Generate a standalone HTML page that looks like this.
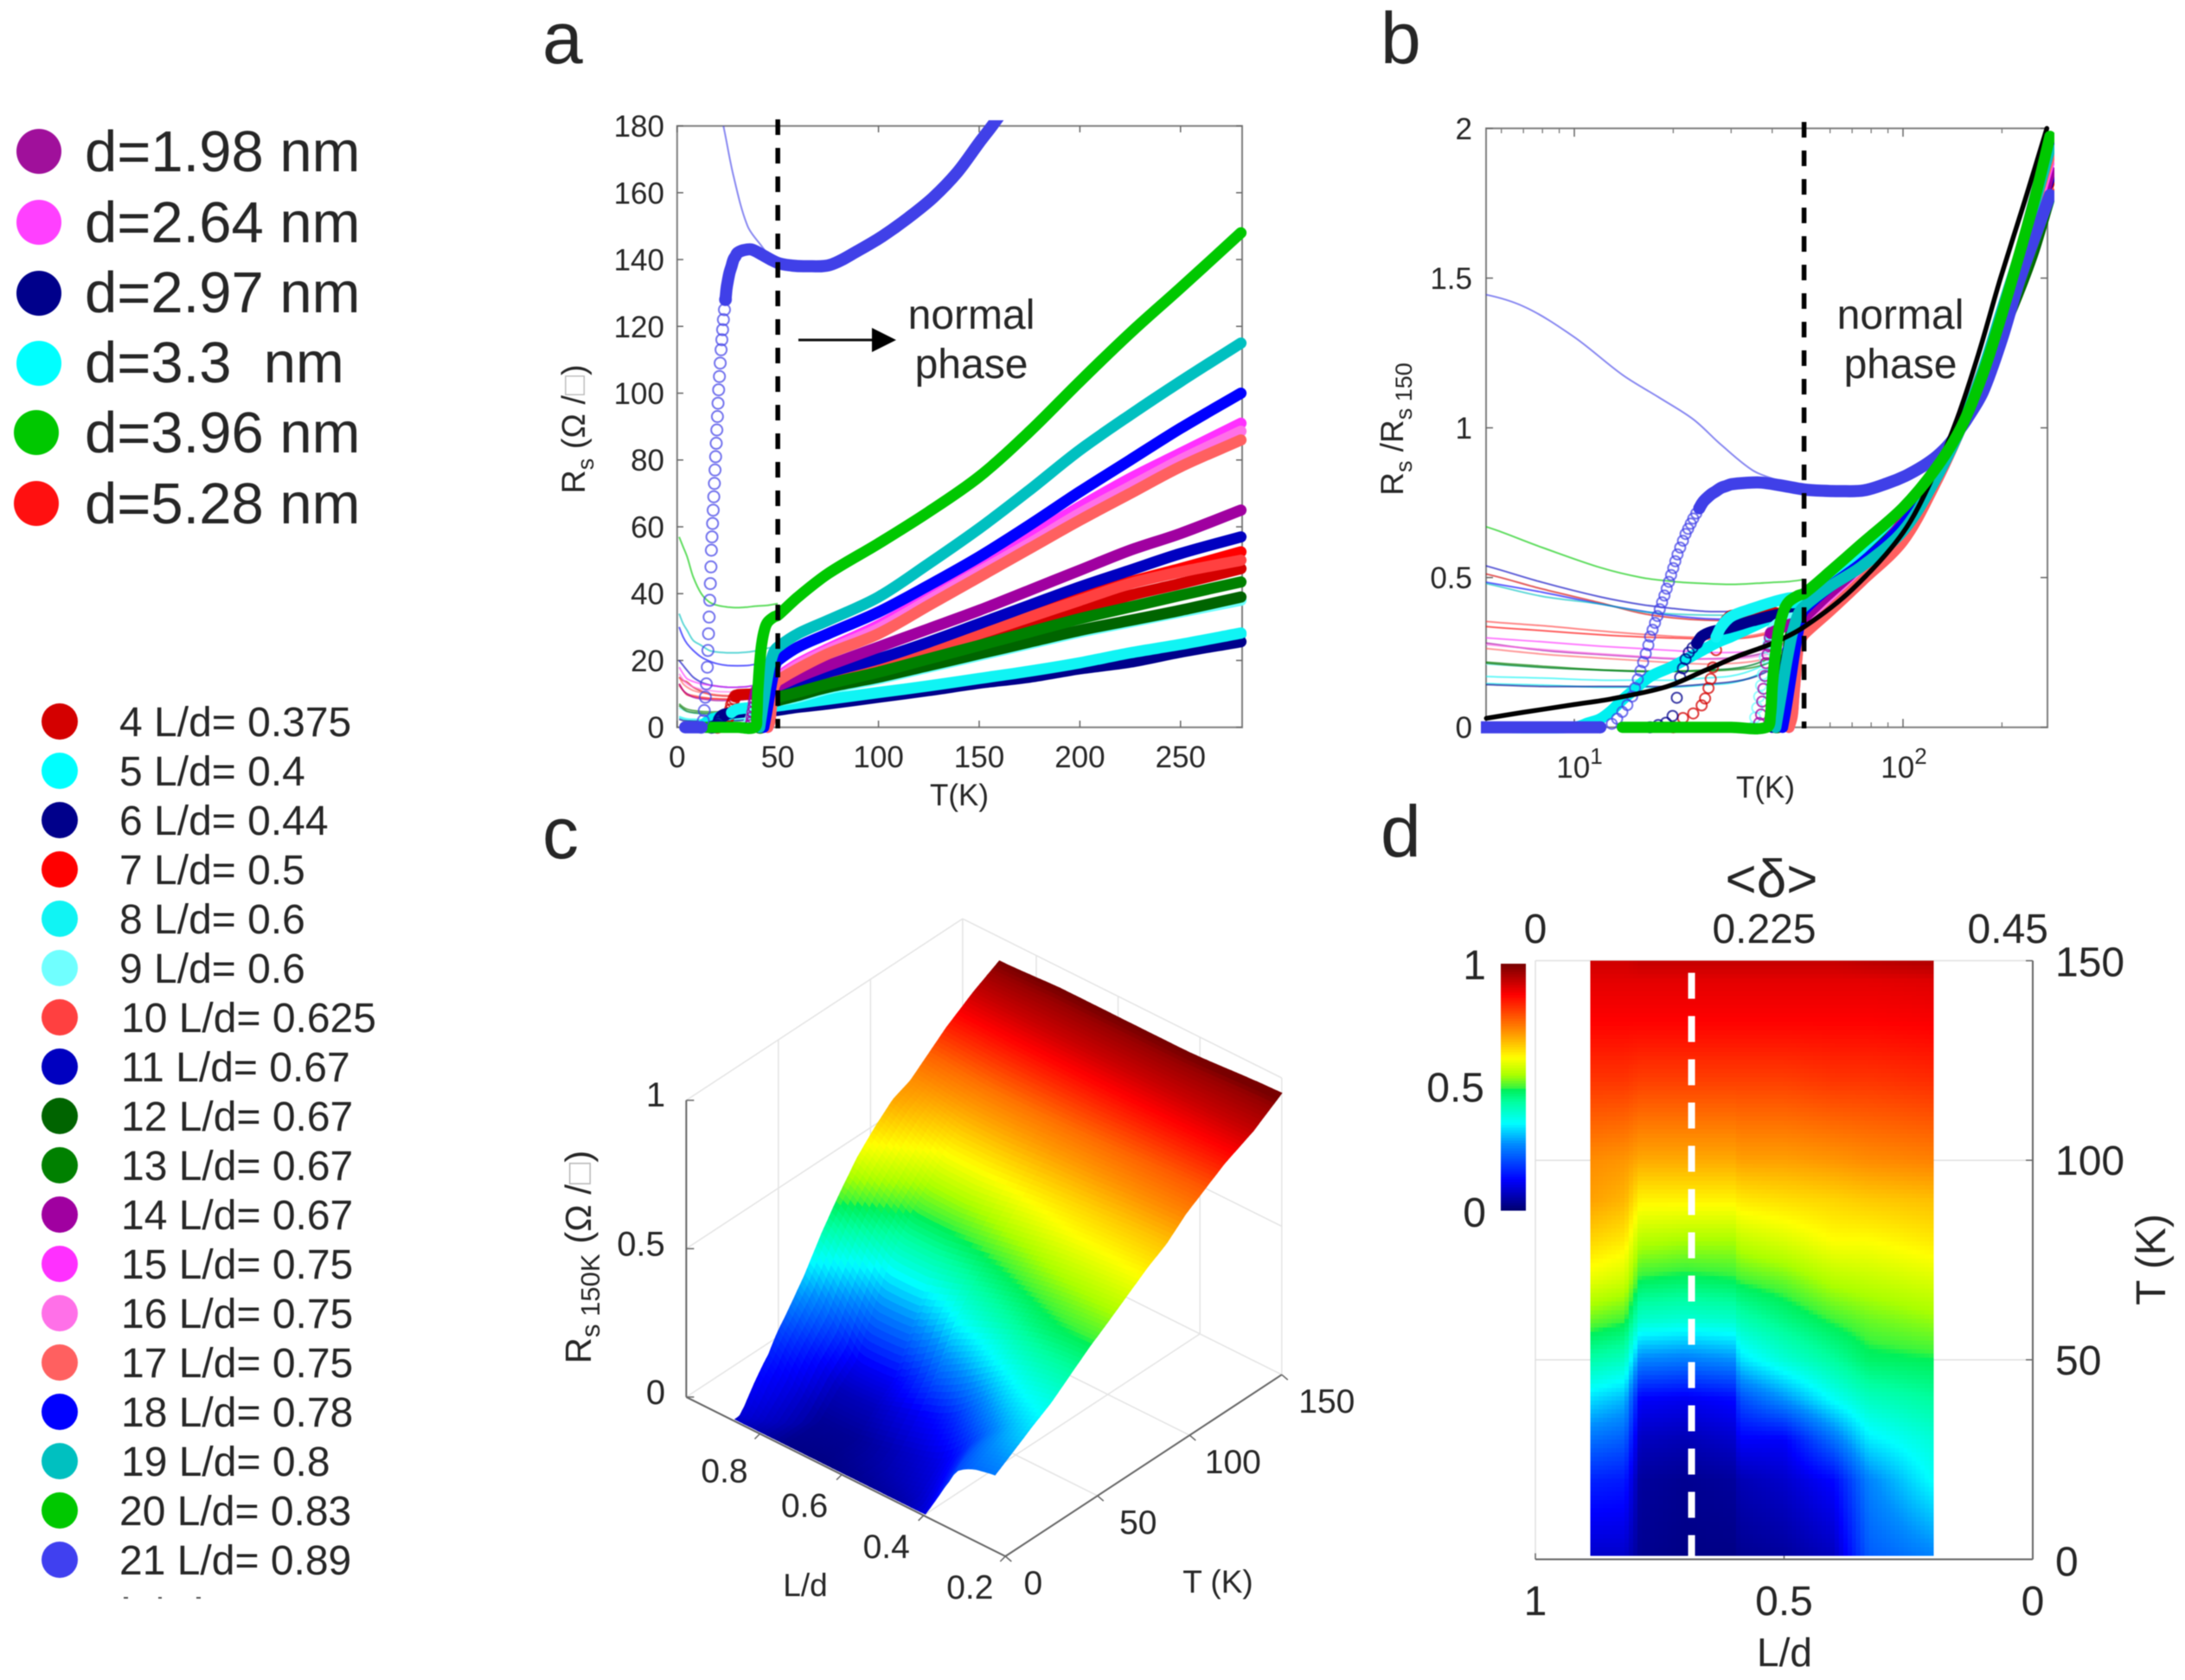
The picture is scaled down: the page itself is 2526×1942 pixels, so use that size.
<!DOCTYPE html>
<html lang="en">
<head>
<meta charset="utf-8">
<title>Resistance versus temperature panels</title>
<style>
html,body{margin:0;padding:0;background:#fff;}
svg{display:block;filter:blur(0.6px);}
text{font-family:"Liberation Sans","DejaVu Sans",sans-serif;fill:#262626;}
</style>
</head>
<body>
<svg id="fig" xmlns="http://www.w3.org/2000/svg" width="2526" height="1942" viewBox="0 0 2526 1942">
<rect x="0" y="0" width="2526" height="1942" fill="#fff"/>
<defs>
<clipPath id="clipAThin"><rect x="783" y="145.6" width="653" height="695"/></clipPath>
<clipPath id="clipAThick"><rect x="773" y="139" width="672" height="712"/></clipPath>
<clipPath id="clipBThin"><rect x="1718" y="148.4" width="649" height="692.3"/></clipPath>
<clipPath id="clipBThick"><rect x="1712" y="142" width="663" height="708"/></clipPath>
</defs>

<g font-size="67">
<g><circle cx="45" cy="175" r="26" fill="#a0109b"/><text x="98" y="198" font-size="67">d=1.98 nm</text></g>
<g><circle cx="45" cy="257" r="26" fill="#ff40ff"/><text x="98" y="280" font-size="67">d=2.64 nm</text></g>
<g><circle cx="45" cy="339" r="26" fill="#00008b"/><text x="98" y="361" font-size="67">d=2.97 nm</text></g>
<g><circle cx="45" cy="420" r="26" fill="#00ffff"/><text x="98" y="442" font-size="67" xml:space="preserve">d=3.3  nm</text></g>
<g><circle cx="42" cy="500" r="26" fill="#00c800"/><text x="98" y="523" font-size="67">d=3.96 nm</text></g>
<g><circle cx="42" cy="582" r="26" fill="#ff1010"/><text x="98" y="605" font-size="67">d=5.28 nm</text></g>
</g>

<g font-size="48">
<g><circle cx="69" cy="834" r="21" fill="#d40000"/><text x="138" y="851" font-size="48">4 L/d= 0.375</text></g>
<g><circle cx="69" cy="891" r="21" fill="#00ffff"/><text x="138" y="908" font-size="48">5 L/d= 0.4</text></g>
<g><circle cx="69" cy="948" r="21" fill="#00008b"/><text x="138" y="965" font-size="48">6 L/d= 0.44</text></g>
<g><circle cx="69" cy="1005" r="21" fill="#ff0000"/><text x="138" y="1022" font-size="48">7 L/d= 0.5</text></g>
<g><circle cx="69" cy="1062" r="21" fill="#10f4f4"/><text x="138" y="1079" font-size="48">8 L/d= 0.6</text></g>
<g><circle cx="69" cy="1119" r="21" fill="#70ffff"/><text x="138" y="1136" font-size="48">9 L/d= 0.6</text></g>
<g><circle cx="69" cy="1176" r="21" fill="#ff4040"/><text x="140" y="1193" font-size="48">10 L/d= 0.625</text></g>
<g><circle cx="69" cy="1233" r="21" fill="#0000c0"/><text x="140" y="1250" font-size="48">11 L/d= 0.67</text></g>
<g><circle cx="69" cy="1290" r="21" fill="#006400"/><text x="140" y="1307" font-size="48">12 L/d= 0.67</text></g>
<g><circle cx="69" cy="1347" r="21" fill="#008000"/><text x="140" y="1364" font-size="48">13 L/d= 0.67</text></g>
<g><circle cx="69" cy="1404" r="21" fill="#a000a0"/><text x="140" y="1421" font-size="48">14 L/d= 0.67</text></g>
<g><circle cx="69" cy="1461" r="21" fill="#ff30ff"/><text x="140" y="1478" font-size="48">15 L/d= 0.75</text></g>
<g><circle cx="69" cy="1518" r="21" fill="#ff70e8"/><text x="140" y="1535" font-size="48">16 L/d= 0.75</text></g>
<g><circle cx="69" cy="1575" r="21" fill="#ff6060"/><text x="140" y="1592" font-size="48">17 L/d= 0.75</text></g>
<g><circle cx="69" cy="1632" r="21" fill="#0000ff"/><text x="140" y="1649" font-size="48">18 L/d= 0.78</text></g>
<g><circle cx="69" cy="1689" r="21" fill="#00c0c0"/><text x="140" y="1706" font-size="48">19 L/d= 0.8</text></g>
<g><circle cx="69" cy="1746" r="21" fill="#00c800"/><text x="138" y="1763" font-size="48">20 L/d= 0.83</text></g>
<g><circle cx="69" cy="1803" r="21" fill="#4040f0"/><text x="138" y="1820" font-size="48">21 L/d= 0.89</text></g>
<rect x="143" y="1846" width="5" height="2" fill="#555"/>
<rect x="183" y="1846" width="4" height="2" fill="#555"/>
<rect x="227" y="1846" width="5" height="2" fill="#555"/>
</g>

<text x="627" y="73" font-size="84" fill="#000">a</text>
<text x="1596" y="73" font-size="84" fill="#000">b</text>
<text x="627" y="992" font-size="84" fill="#000">c</text>
<text x="1596" y="990" font-size="84" fill="#000">d</text>

<g id="panelA"></g>
<g id="panelB"></g>
<g id="panelC"></g>
<g id="panelD"></g>

<text x="1123" y="380" font-size="48" text-anchor="middle" fill="#111">normal</text>
<text x="1123" y="437" font-size="48" text-anchor="middle" fill="#111">phase</text>
<line x1="923" y1="393" x2="1010" y2="393" stroke="#111" stroke-width="3"/>
<polygon points="1008,379 1036,393 1008,407" fill="#000"/>
<text x="2197" y="380" font-size="48" text-anchor="middle" fill="#111">normal</text>
<text x="2197" y="437" font-size="48" text-anchor="middle" fill="#111">phase</text>

<text transform="translate(676,496) rotate(-90)" font-size="38" text-anchor="middle" fill="#333">R<tspan dy="10" font-size="27">s</tspan><tspan dy="-10"> (Ω /</tspan><tspan fill="#bbb">□</tspan><tspan>)</tspan></text>
<text x="1109" y="931" font-size="35" text-anchor="middle" fill="#333">T(K)</text>
<text transform="translate(1622,496) rotate(-90)" font-size="37" text-anchor="middle" fill="#333">R<tspan dy="10" font-size="27">s</tspan><tspan dy="-10"> /R</tspan><tspan dy="10" font-size="27">s 150</tspan></text>
<text x="2041" y="922" font-size="35" text-anchor="middle" fill="#333">T(K)</text>
<text transform="translate(683,1453) rotate(-90)" font-size="42" text-anchor="middle" fill="#333">R<tspan dy="10" font-size="31">s 150K</tspan><tspan dy="-10"> (Ω /</tspan><tspan fill="#bbb">□</tspan><tspan>)</tspan></text>
<text x="931" y="1845" font-size="37" text-anchor="middle" fill="#333">L/d</text>
<text x="1408" y="1841" font-size="37" text-anchor="middle" fill="#333">T (K)</text>
<text x="2048" y="1037" font-size="62" text-anchor="middle" fill="#111">&lt;δ&gt;</text>
<text transform="translate(2503,1456) rotate(-90)" font-size="48" text-anchor="middle" fill="#333">T (K)</text>
<text x="2063" y="1926" font-size="46" text-anchor="middle" fill="#333">L/d</text>
</svg>

<script>
/* ---------- panel a / b data : sheet resistance vs temperature ---------- */
const seriesIds = [4,5,6,7,8,9,10,11,12,13,14,15,16,17,18,19,20,21];
const seriesColors = ['#d40000','#00f0f0','#00008b','#ff0000','#10f4f4','#70ffff','#ff4040','#0000c0','#006400','#008000','#a000a0','#ff30ff','#ff70e8','#ff6060','#0000ff','#00c0c0','#00c800','#4040e8'];

const normalT = [50,60,75,100,125,150,175,200,225,250,280];
const thinT = [1,3,5,8,12,16,20,25,30,35,40,45,50];

const low4T = [20,21.4,23,24.4,25,25.6,26,26.4,27,27.7,28.3,29,30,35,40,45];
const low4R = [0,0.8,1.2,1.9,2.5,3.4,4.2,5.2,6.7,7.7,8.6,9.3,9.7,9.9,10,9.5];
const norm4R = [9,11,13.5,17,21.5,26,30.5,35,39.5,43,47.5];
const thin4R = [15,14,13.5,12,10.8,9.9,9.5,9.3,9.3,9.5,9.8,10.5,11];

const low5T = [5,10,11,12,13,14,15,17,20,27,30,40,45];
const low5R = [0,0,0.2,0.4,0.8,1.3,1.7,2.4,2.9,4,4.3,5.2,5.5];
const norm5R = [5.8,6.8,8,10,12,14.2,16.5,19,22,24.5,27.8];
const thin5R = [2.8,2.4,2.1,2,1.9,1.9,1.9,2,2.1,2.4,2.9,3.8,5];

const low6T = [17,18,19,19.9,20.5,21,21.4,21.8,22.3,22.9,23.6,24.4,26,29.7,35,42.8,47];
const low6R = [0,0.1,0.2,0.5,1.3,2.2,2.6,3,3.3,3.5,3.7,4,4.2,4.4,4.7,5,5];
const norm6R = [5.1,6,7,9,11,13.2,15,17.5,19.5,22.5,25.6];
const thin6R = [2.4,2,1.9,1.8,1.8,1.8,1.8,1.9,2,2.2,2.6,3.4,4.5];

const low7T = [42,43,44,45,46,48];
const low7R = [0,1.5,3.5,5.5,7.5,9.2];
const norm7R = [10,12.5,15.5,19.5,24,28.5,34,39,43.5,47.5,52.5];
const thin7R = [13,11,9.7,9.2,8.8,8.6,8.5,8.4,8.4,8.6,9,9.5,10];

const low8T = [27,28,30,35,40,45];
const low8R = [4.4,4.9,5.4,5.8,6.1,6.3];
const norm8R = [6.4,7.2,8.4,10.4,12.4,14.6,16.8,19.3,22.3,24.8,28.2];
const thin8R = [3.2,2.8,2.5,2.4,2.3,2.3,2.3,2.4,2.5,2.8,3.3,4.2,5.5];

const low9T = [35,35.5,36,36.5,37,37.5,38,39,40,42,45];
const low9R = [0,0.7,1.4,2.2,3,3.8,5,6,7,7.5,7.8];
const norm9R = [8,9,11.5,14.5,18,21.5,25,28.5,31.5,34.5,38];
const thin9R = [5.8,5.2,4.6,4.3,4.1,4,4,4.1,4.2,4.5,5.1,6.2,8];

const low10T = [41,42,43,44,46,48];
const low10R = [0,1,3,5,7.5,9];
const norm10R = [10,12,15,18.5,23,28,33,38,43,46.5,50];
const thin10R = [12.5,11,10,9.5,9,8.7,8.5,8.4,8.4,8.6,9,9.5,10];

const low11T = [40,41,42,43,44,46,48];
const low11R = [0,1,3,5,7,9.5,10.5];
const norm11R = [11,13.5,16.5,20.5,25.5,31,36.5,42,47,52,57];
const thin11R = [20,18.5,17,15,13.5,12.7,12.3,12,12,12.2,12.8,13.5,14];

const low12T = [41,41.5,42,42.5,43,44,45,46,48];
const low12R = [0,1,2,3,4,5,6,7,7.6];
const norm12R = [8,9.5,12,15,18.5,22,25.5,29,32,35,39];
const thin12R = [6.5,5.5,4.8,4.4,4.2,4.1,4.1,4.2,4.3,4.6,5.2,6.2,8];

const low13T = [41.5,42,42.5,43,43.5,44,44.5,45,46,48];
const low13R = [0,1,2,3,4,5,6,7,8,8.7];
const norm13R = [9,10.5,13,16.5,20.5,24.5,28.5,32.5,36,39.5,43.5];
const thin13R = [7,6,5.4,5,4.7,4.6,4.6,4.6,4.7,4.9,5.4,6.5,9];

const low14T = [36.5,37,37.3,37.6,38,38.3,38.7,39,39.3,39.6,42,45];
const low14R = [0.5,1.5,3,4.5,6,7.5,8.5,9.5,10.5,11,11.5,12];
const norm14R = [12.5,15,18.5,24,29.5,35,41,47,53,58,65];
const thin14R = [13,11,10,9,8.5,8.2,8,8,8.1,8.4,9,10.4,12.5];

const low15T = [45,46,46.5,47,47.5,48,49];
const low15R = [0,2,5,8,11,13,14.3];
const norm15R = [15,19,23.5,30.5,39,48,57,66,74.5,82,91];
const thin15R = [18,16,14.5,13.7,13,12.6,12.3,12,12,12.2,12.6,13.5,15];

const low16T = [45,46,46.5,47,47.5,48,49];
const low16R = [0,1.8,4.6,7.6,10.5,12.5,13.8];
const norm16R = [14.5,18.5,23,29.5,38,46.5,55,64,72,80,88.6];
const thin16R = [16,14.2,13,12.1,11.4,11,10.7,10.6,10.6,10.9,11.5,12.8,14.5];

const low17T = [45,46,46.5,47,47.5,48,49];
const low17R = [0,1.6,4.4,7.2,10,12,13.3];
const norm17R = [14,17.5,22,28,36.5,45,53.5,62,70,78,86];
const thin17R = [15,13,12,11,10.4,10,9.7,9.5,9.6,9.9,10.6,12,14];

const low18T = [43,44,45,46,47,48,49];
const low18R = [0,3,6.5,10,13.5,16.5,19];
const norm18R = [20,24,28,34.5,42.5,51,60.5,70.5,80,89.5,100];
const thin18R = [30,27,25,23,21,19.8,19,18.5,18.4,18.5,19,19.8,20];

const low19T = [41,42,43,44,45,46,48];
const low19R = [0,4,8,12,15.5,18.5,22.5];
const norm19R = [24,28,32,39,49,59.5,71,83,93.5,103.5,115];
const thin19R = [34,31,29,26,24.5,23,22.5,22.3,22.3,22.5,23,23.7,24];

const low20T = [14,20,30,38.5,39.5,40,40.5,41,42,43.5,45,48];
const low20R = [0,0,0,0,3,10,15,19,25,29.5,31.5,33];
const norm20R = [33.5,39,46,55,64.5,75,88.5,103.5,118,131.5,148];
const thin20R = [57,54,51,45,40,37.5,36.5,36,35.8,36,36.3,36.5,37];

/* sample 21: baseline, then the open-circle transition, then the thick normal-state curve */
const curve21T = [4,8,11,12,13,13.5,14,14.5,15,15.3,15.6,15.9,16.2,16.5,16.8,17,17.3,17.6,17.9,18.2,18.5,18.8,19.1,19.4,19.7,20,20.3,20.6,21,21.4,21.8,22.2,22.6,23,23.5,24,24.5,25,26,27,28,29,30,33,37,42,50,57,64,76,90,102,115,127,139,150,157,175,200,225,250,280];
const curve21R = [0,0,0,0,2,5,9,13,18,23,28,33,38,43,48,53,57,61,65,69,73,77,81,85,89,93,97,101,105,109,113,116,119,122,125,128,131,133,136,138,140,141,142,142.8,143,141.5,139,138.2,138,138.4,142.7,147,152.6,158.5,166,175,180.5,196,227,260,285,311];
const thin21T = [1,3,5,7,10,14,18,23,28,35,42,46,50];
const thin21R = [262,258,254,246,228,206,193,180,165,150,144,141,139];

const lowTs = [low4T,low5T,low6T,low7T,low8T,low9T,low10T,low11T,low12T,low13T,low14T,low15T,low16T,low17T,low18T,low19T,low20T];
const lowRs = [low4R,low5R,low6R,low7R,low8R,low9R,low10R,low11R,low12R,low13R,low14R,low15R,low16R,low17R,low18R,low19R,low20R];
const normRs = [norm4R,norm5R,norm6R,norm7R,norm8R,norm9R,norm10R,norm11R,norm12R,norm13R,norm14R,norm15R,norm16R,norm17R,norm18R,norm19R,norm20R];
const thinRs = [thin4R,thin5R,thin6R,thin7R,thin8R,thin9R,thin10R,thin11R,thin12R,thin13R,thin14R,thin15R,thin16R,thin17R,thin18R,thin19R,thin20R];
/* how many leading points of each series are plotted as open circles */
const circleCounts = [12,0,11,0,0,8,0,0,7,8,10,0,0,0,0,0,0,36];

/* black reference curve of panel b */
const blackT = [5.4,7,10,13,19,25,31,40,50,70,100,125,146,170,198,235,274];
const blackV = [0.03,0.05,0.076,0.095,0.135,0.19,0.235,0.28,0.335,0.46,0.65,0.85,1.03,1.25,1.5,1.76,2];

const aXTicks = [0,50,100,150,200,250];
const aYTicks = [0,20,40,60,80,100,120,140,160,180];
const bYTicks = [0,0.5,1,1.5,2];
const bYLabels = ['0','0.5','1','1.5','2'];
const bMinorT = [6,7,8,9,20,30,40,50,60,70,80,90,200];
const bMajorT = [10,100];
const bMajorExp = ['1','2'];
const normalBoundaryT = 50;

/* ---------- panel c / d data : normalised R over (L/d, T) ---------- */
const ldCols = [0.89,0.82,0.79,0.70,0.60,0.59,0.50,0.40,0.33,0.20];
const tRows = [1,20,30,40,50,60,70,80,90,100,120,135,145,150];
const rsRow1 = [0.08,0.08,0.03,0.02,0.02,0.03,0.04,0.07,0.22,0.26];
const rsRow20 = [0.16,0.15,0.04,0.03,0.04,0.06,0.08,0.13,0.26,0.36];
const rsRow30 = [0.24,0.22,0.07,0.06,0.08,0.12,0.12,0.24,0.34,0.39];
const rsRow40 = [0.33,0.30,0.12,0.11,0.13,0.20,0.27,0.36,0.41,0.44];
const rsRow50 = [0.43,0.41,0.26,0.25,0.27,0.33,0.39,0.44,0.48,0.49];
const rsRow60 = [0.52,0.50,0.40,0.39,0.40,0.42,0.46,0.50,0.52,0.54];
const rsRow70 = [0.60,0.58,0.49,0.48,0.49,0.50,0.52,0.56,0.57,0.59];
const rsRow80 = [0.66,0.64,0.56,0.55,0.55,0.57,0.59,0.62,0.62,0.64];
const rsRow90 = [0.71,0.69,0.63,0.63,0.63,0.64,0.65,0.66,0.67,0.68];
const rsRow100 = [0.73,0.72,0.70,0.70,0.70,0.71,0.71,0.72,0.73,0.74];
const rsRow120 = [0.82,0.82,0.81,0.81,0.81,0.81,0.81,0.82,0.82,0.83];
const rsRow135 = [0.875,0.875,0.875,0.875,0.875,0.875,0.875,0.875,0.875,0.88];
const rsRow145 = [0.90,0.90,0.90,0.90,0.90,0.90,0.90,0.90,0.90,0.905];
const rsRow150 = [0.92,0.92,0.93,0.93,0.93,0.93,0.93,0.93,0.94,0.95];
const rsGrid = [rsRow1,rsRow20,rsRow30,rsRow40,rsRow50,rsRow60,rsRow70,rsRow80,rsRow90,rsRow100,rsRow120,rsRow135,rsRow145,rsRow150];

const cLdTicks = [0.8,0.6,0.4,0.2];
const cLdLabels = ['0.8','0.6','0.4','0.2'];
const cTTicks = [0,50,100,150];
const cZTicks = [0,0.5,1];
const cZLabels = ['0','0.5','1'];
const dTTicks = [0,50,100,150];
const dLdTicks = [1,0.5,0];
const dLdLabels = ['1','0.5','0'];
const dDeltaLabels = ['0','0.225','0.45'];
const dDeltaLd = [1,0.54,0.05];
const cbTicks = [0,0.5,1];
const cbLabels = ['0','0.5','1'];
const dashedLd = 0.686;

/* colormap */
const cmapV = [0,0.125,0.27,0.355,0.44,0.49,0.5,0.55,0.62,0.72,0.875,1];
const cmapR = [0,0,0,0,0,0,60,170,255,255,255,120];
const cmapG = [0,0,140,255,255,240,245,255,255,150,0,0];
const cmapB = [110,255,255,255,160,90,60,0,0,0,0,0];

/* ---------- helpers ---------- */
const NS = 'http://www.w3.org/2000/svg';
function add(parent, tag, attrs, txt){
  const el = document.createElementNS(NS, tag);
  for (const k in attrs) el.setAttribute(k, attrs[k]);
  if (txt !== undefined) el.textContent = txt;
  parent.appendChild(el);
  return el;
}
function interp(xs, ys, x){
  if (x <= xs[0]) return ys[0];
  for (let i = 1; i < xs.length; i++) {
    if (x <= xs[i]) return ys[i-1] + (ys[i]-ys[i-1])*(x-xs[i-1])/(xs[i]-xs[i-1]);
  }
  return ys[ys.length-1];
}
function jet(v){
  v = Math.max(0, Math.min(1, v));
  return 'rgb('+Math.round(interp(cmapV,cmapR,v))+','+Math.round(interp(cmapV,cmapG,v))+','+Math.round(interp(cmapV,cmapB,v))+')';
}
function unit(dx, dy){
  const n = Math.hypot(dx, dy);
  return n > 0 ? [dx/n, dy/n] : [0, 0];
}
function pathD(ts, vs, fx, fy){
  const p = ts.map((t,i) => [fx(t), fy(vs[i])]);
  let d = 'M' + p[0][0].toFixed(1) + ' ' + p[0][1].toFixed(1);
  for (let i = 0; i < p.length-1; i++) {
    const a = p[i], b = p[i+1], prev = p[i-1] || a, next = p[i+2] || b;
    const len = Math.hypot(b[0]-a[0], b[1]-a[1]);
    const t1 = unit(b[0]-prev[0], b[1]-prev[1]);
    const t2 = unit(next[0]-a[0], next[1]-a[1]);
    d += 'C' + (a[0]+t1[0]*len*0.33).toFixed(1) + ' ' + (a[1]+t1[1]*len*0.33).toFixed(1) + ' '
       + (b[0]-t2[0]*len*0.33).toFixed(1) + ' ' + (b[1]-t2[1]*len*0.33).toFixed(1) + ' '
       + b[0].toFixed(1) + ' ' + b[1].toFixed(1);
  }
  return d;
}
function surfaceValue(ld, T){
  let r = 0;
  while (r < tRows.length-2 && T > tRows[r+1]) r++;
  let c = 0;
  while (c < ldCols.length-2 && ld < ldCols[c+1]) c++;
  const ft = Math.max(0, Math.min(1, (T - tRows[r])/(tRows[r+1]-tRows[r])));
  const fl = Math.max(0, Math.min(1, (ldCols[c]-ld)/(ldCols[c]-ldCols[c+1])));
  const a = rsGrid[r][c]*(1-fl) + rsGrid[r][c+1]*fl;
  const b = rsGrid[r+1][c]*(1-fl) + rsGrid[r+1][c+1]*fl;
  return a*(1-ft) + b*ft;
}
/* panel c shows the same map, slightly smoothed along L/d */
function surfaceSmooth(ld, T){
  return (surfaceValue(ld-0.05,T)+surfaceValue(ld-0.025,T)+surfaceValue(ld,T)+surfaceValue(ld+0.025,T)+surfaceValue(ld+0.05,T))/5;
}
function surfaceHeight(ld, T){
  let v = surfaceSmooth(ld,T);
  if (T > 135) {
    const v0 = surfaceSmooth(ld,135), v1 = surfaceSmooth(ld,150);
    v = v0 + (v1-v0)*(T-135)/15;
  }
  const drop = Math.max(0,1-T/30)*0.1*Math.min(1,Math.max(0,2*(1-v/0.2)));
  return Math.max(0, v-drop);
}

/* ---------- axis functions ---------- */
const xA = t => 782.8 + t*2.328;
const yA = r => 840.7 - r*3.862;
const xB = t => 2200 + 380*(Math.log10(t)-2);
const yB = v => 840.7 - v*346.15;
const xD = l => 1775 + (1-l)*575;
const yD = t => 1802.5 - t*4.613;
const yCb = v => 1399 - v*285;
const projC = (l,t,z) => [1162.3 - (l-0.2)*473 + t/150*319.5, 1799 - (l-0.2)*236 - t/150*209.9 - z*343];

/* merged curves */
const fullT = seriesIds.map((id,i) => i < lowTs.length ? lowTs[i].concat(normalT) : curve21T);
const fullR = seriesIds.map((id,i) => i < lowRs.length ? lowRs[i].concat(normRs[i]) : curve21R);
const r150 = seriesIds.map((id,i) => interp(fullT[i], fullR[i], 150));
const thinTs = seriesIds.map((id,i) => i < thinRs.length ? thinT : thin21T);
const thinVs = seriesIds.map((id,i) => i < thinRs.length ? thinRs[i] : thin21R);

function drawFrame(parent, x0, y0, x1, y1){
  const f = add(parent,'path',{d:'M'+x0+' '+y0+'L'+x1+' '+y0+'L'+x1+' '+y1+'L'+x0+' '+y1+'Z',fill:'none',stroke:'#808080','stroke-width':2});
  
  
}
function drawSeries(panel, fx, fy, order, norm, clipThin, letter){
  const thinG = add(panel,'g',{'clip-path':'url(#'+clipThin+')'});
  
  
  order.forEach(i => {
    const n = norm ? r150[i] : 1;
    const p = add(thinG,'path',{d:pathD(thinTs[i],thinVs[i].map(v=>v/n),fx,fy),fill:'none',stroke:seriesColors[i],'stroke-width':2,'stroke-opacity':0.62});
    
    
  });
}
function drawThick(g, i, fx, fy, norm, lineW, circR){
  const n = norm ? r150[i] : 1;
  const ts = fullT[i], vs = fullR[i].map(v=>v/n);
  const color = seriesColors[i];
  const isS21 = seriesIds[i] === 21;
  const circStart = isS21 ? 3 : 0;
  const circEnd = circleCounts[i];
  if (circStart > 0) {
    const base = add(g,'path',{d:pathD(ts.slice(0,circStart+1),vs.slice(0,circStart+1),fx,fy),fill:'none',stroke:color,'stroke-width':lineW,'stroke-linecap':'round','stroke-linejoin':'round'});
    
    
  }
  for (let k = circStart; k < circEnd; k++) {
    const c = add(g,'circle',{cx:fx(ts[k]).toFixed(1),cy:fy(vs[k]).toFixed(1),r:circR,fill:'none',stroke:color,'stroke-width':2,'stroke-opacity':isS21?0.72:0.75});
    
    
  }
  const from = Math.max(circEnd-1,0);
  const line = add(g,'path',{d:pathD(ts.slice(from),vs.slice(from),fx,fy),fill:'none',stroke:color,'stroke-width':lineW,'stroke-linecap':'round','stroke-linejoin':'round'});
  
  
}

/* ---------- panel a ---------- */
(function(){
  const panel = document.getElementById('panelA');
  drawFrame(panel, 782.8, 145.6, 1436, 840.7);
  aXTicks.forEach(t => {
    const b = add(panel,'line',{x1:xA(t),x2:xA(t),y1:840.7,y2:833,stroke:'#666','stroke-width':1.5});
    
    
    const u = add(panel,'line',{x1:xA(t),x2:xA(t),y1:145.6,y2:153,stroke:'#666','stroke-width':1.5});
    
    
    const l = add(panel,'text',{x:xA(t),y:887,'font-size':35,'text-anchor':'middle'},String(t));
    
    
  });
  aYTicks.forEach(v => {
    const b = add(panel,'line',{x1:782.8,x2:790,y1:yA(v),y2:yA(v),stroke:'#666','stroke-width':1.5});
    
    
    const r = add(panel,'line',{x1:1436,x2:1429,y1:yA(v),y2:yA(v),stroke:'#666','stroke-width':1.5});
    
    
    const l = add(panel,'text',{x:768,y:yA(v)+12.5,'font-size':35,'text-anchor':'end'},String(v));
    
    
  });
  const order = seriesIds.map((id,i)=>i);
  drawSeries(panel, xA, yA, order, false, 'clipAThin', 'a');
  const g = add(panel,'g',{'clip-path':'url(#clipAThick)'});
  
  
  order.forEach(i => drawThick(g, i, xA, yA, false, seriesIds[i]===21?14:13, 6.5));
  const d = add(panel,'line',{x1:xA(normalBoundaryT),x2:xA(normalBoundaryT),y1:138,y2:842,stroke:'#000','stroke-width':5.5,'stroke-dasharray':'18 15'});
  
  
})();

/* ---------- panel b ---------- */
(function(){
  const panel = document.getElementById('panelB');
  drawFrame(panel, 1718, 148.4, 2367, 840.7);
  bMinorT.forEach(t => {
    const b = add(panel,'line',{x1:xB(t),x2:xB(t),y1:840.7,y2:835,stroke:'#777','stroke-width':1.3});
    
    
    const u = add(panel,'line',{x1:xB(t),x2:xB(t),y1:148.4,y2:154,stroke:'#777','stroke-width':1.3});
    
    
  });
  bMajorT.forEach((t,i) => {
    const b = add(panel,'line',{x1:xB(t),x2:xB(t),y1:840.7,y2:831,stroke:'#666','stroke-width':1.5});
    
    
    const u = add(panel,'line',{x1:xB(t),x2:xB(t),y1:148.4,y2:158,stroke:'#666','stroke-width':1.5});
    
    
    const l = add(panel,'text',{x:xB(t)+(i===0?6:1),y:899,'font-size':35,'text-anchor':'middle'});
    
    
    add(l,'tspan',{},'10');
    add(l,'tspan',{dy:-16,'font-size':26},bMajorExp[i]);
  });
  bYTicks.forEach((v,i) => {
    const b = add(panel,'line',{x1:1718,x2:1726,y1:yB(v),y2:yB(v),stroke:'#666','stroke-width':1.5});
    
    
    const r = add(panel,'line',{x1:2367,x2:2359,y1:yB(v),y2:yB(v),stroke:'#666','stroke-width':1.5});
    
    
    const l = add(panel,'text',{x:1702,y:yB(v)+12.5,'font-size':35,'text-anchor':'end'},bYLabels[i]);
    
    
  });
  const order = seriesIds.map((id,i)=>i);
  drawSeries(panel, xB, yB, order, true, 'clipBThin', 'b');
  const g = add(panel,'g',{'clip-path':'url(#clipBThick)'});
  
  
  const idx21 = seriesIds.indexOf(21), idx20 = seriesIds.indexOf(20);
  order.filter(i => i !== idx20 && i !== idx21).forEach(i => drawThick(g, i, xB, yB, true, 13, 6));
  drawThick(g, idx21, xB, yB, true, 14, 6);
  const k = add(g,'path',{d:pathD(blackT,blackV,xB,yB),fill:'none',stroke:'#000','stroke-width':5.5,'stroke-linecap':'round'});
  
  
  drawThick(g, idx20, xB, yB, true, 13, 6);
  const d = add(panel,'line',{x1:xB(normalBoundaryT),x2:xB(normalBoundaryT),y1:141,y2:842,stroke:'#000','stroke-width':5.5,'stroke-dasharray':'18 15'});
  
  
})();

/* ---------- panel c ---------- */
(function(){
  const panel = document.getElementById('panelC');
  const gridC = '#e4e4e4';
  const seg = (a, b, color, w, name) => {
    const l = add(panel,'line',{x1:a[0],y1:a[1],x2:b[0],y2:b[1],stroke:color,'stroke-width':w});
    
    
  };
  const lMax = 0.98, lMin = 0.2;
  [50,100].forEach(t => {
    seg(projC(lMax,t,0), projC(lMin,t,0), gridC, 1.5, 'floor-grid-t');
    seg(projC(lMax,t,0), projC(lMax,t,1), gridC, 1.5, 'wall-grid-t');
  });
  [0.8,0.6,0.4].forEach(l => {
    seg(projC(l,0,0), projC(l,150,0), gridC, 1.5, 'floor-grid-ld');
    seg(projC(l,150,0), projC(l,150,1), gridC, 1.5, 'wall-grid-ld');
  });
  [0.5,1].forEach(z => {
    seg(projC(lMax,0,z), projC(lMax,150,z), gridC, 1.5, 'wall-grid-z');
    seg(projC(lMax,150,z), projC(lMin,150,z), gridC, 1.5, 'wall-grid-z');
  });
  seg(projC(lMax,150,0), projC(lMax,150,1), gridC, 1.5, 'back-corner-edge');
  seg(projC(lMin,150,0), projC(lMin,150,1), gridC, 1.5, 'right-corner-edge');
  seg(projC(lMax,150,0), projC(lMin,150,0), gridC, 1.5, 'floor-back-edge');
  seg(projC(lMax,150,0), projC(lMax,0,0), gridC, 1.5, 'floor-left-edge');
  seg(projC(lMax,0,0), projC(lMax,0,1), '#666', 2, 'z-axis-line');
  seg(projC(lMax,0,0), projC(lMin,0,0), '#666', 2, 'ld-axis-line');
  seg(projC(lMin,0,0), projC(lMin,150,0), '#666', 2, 't-axis-line');
  cZTicks.forEach((z,i) => {
    const p = projC(lMax,0,z);
    seg(p, [p[0]+9,p[1]], '#666', 1.5, 'z-tick');
    const l = add(panel,'text',{x:i===1?741:758,y:p[1]+(i===2?7:i===1?8:8),'font-size':40,'text-anchor':'middle'},cZLabels[i]);
    
    
  });
  cLdTicks.forEach((ld,i) => {
    const p = projC(ld,0,0);
    seg(p, [p[0]-6,p[1]+6], '#666', 1.5, 'ld-tick');
    const l = add(panel,'text',{x:p[0]-41-(i===1||i===2?2:0),y:p[1]+(i===0?56:49),'font-size':39,'text-anchor':'middle'},cLdLabels[i]);
    
    
  });
  cTTicks.forEach(t => {
    const p = projC(lMin,t,0);
    seg(p, [p[0]+7,p[1]+6], '#666', 1.5, 't-tick');
    const l = add(panel,'text',{x:p[0]+(t===0?32:t===50?47:t===100?50:52),y:p[1]+44,'font-size':39,'text-anchor':'middle'},String(t));
    
    
  });
  const g = add(panel,'g',{});
  
  
  const tA = tRows[0], tB = tRows[tRows.length-1];
  const nL = 56, nT = 110;
  const startL = t => ldCols[0] - 0.025*(1-t/150);
  const endL = t => ldCols[ldCols.length-1] + 0.03*(1-t/150);
  const colL = (i, t) => startL(t) + (endL(t)-startL(t))*i/nL;
  for (let j = nT-1; j >= 0; j--) {
    const t0 = tA + (tB-tA)*j/nT, t1 = tA + (tB-tA)*(j+1)/nT, tm = (t0+t1)/2;
    for (let i = 0; i < nL; i++) {
      const corners = [[colL(i,t0),t0],[colL(i+1,t0),t0],[colL(i+1,t1),t1],[colL(i,t1),t1]];
      const pts = corners.map(q => projC(q[0],q[1],surfaceHeight(q[0],q[1])));
      const lm = colL(i+0.5,tm);
      const col = jet(surfaceSmooth(lm,tm) + Math.max(0,(tm-110)/40)*0.08);
      const poly = add(g,'polygon',{points:pts.map(q=>q[0].toFixed(1)+','+q[1].toFixed(1)).join(' '),fill:col,stroke:col,'stroke-width':1});
      
      
    }
  }
})();

/* ---------- panel d ---------- */
(function(){
  const panel = document.getElementById('panelD');
  const ln = (x1,y1,x2,y2,color,w,name) => {
    const l = add(panel,'line',{x1:x1,y1:y1,x2:x2,y2:y2,stroke:color,'stroke-width':w});
    
    
  };
  ln(xD(1),yD(150),xD(0),yD(150),'#e0e0e0',1.5,'top-axis-line');
  ln(xD(1),yD(150),xD(1),yD(0),'#e0e0e0',1.5,'left-axis-line');
  ln(xD(1),yD(0),xD(0),yD(0),'#666',2,'bottom-axis-line');
  ln(xD(0),yD(150),xD(0),yD(0),'#666',2,'right-axis-line');
  [50,100].forEach(t => ln(xD(1),yD(t),xD(0),yD(t),'#e0e0e0',1.5,'t-grid-line'));
  dTTicks.forEach(t => {
    ln(xD(0),yD(t),xD(0)-8,yD(t),'#666',1.5,'t-tick');
    const l = add(panel,'text',{x:xD(0)+26,y:yD(t)+(t===0?19:t===150?18:17),'font-size':48},String(t));
    
    
  });
  dLdTicks.forEach((ld,i) => {
    ln(xD(ld),yD(0),xD(ld),yD(0)-7,'#666',1.5,'ld-tick');
    const l = add(panel,'text',{x:xD(ld),y:1867,'font-size':48,'text-anchor':'middle'},dLdLabels[i]);
    
    
  });
  dDeltaLabels.forEach((s,i) => {
    const l = add(panel,'text',{x:xD(dDeltaLd[i]),y:1090,'font-size':48,'text-anchor':'middle'},s);
    
    
  });
  const g = add(panel,'g',{'shape-rendering':'crispEdges'});
  
  
  const ldA = ldCols[0], ldB = ldCols[ldCols.length-1];
  const tA = tRows[0], tB = tRows[tRows.length-1];
  const nL = 80, nT = 138;
  for (let i = 0; i < nL; i++) {
    const l0 = ldA + (ldB-ldA)*i/nL, l1 = ldA + (ldB-ldA)*(i+1)/nL;
    for (let j = 0; j < nT; j++) {
      const t0 = tA + (tB-tA)*j/nT, t1 = tA + (tB-tA)*(j+1)/nT;
      const cell = add(g,'rect',{x:xD(l0).toFixed(1),y:yD(t1).toFixed(1),width:(xD(l1)-xD(l0)+0.6).toFixed(1),height:(yD(t0)-yD(t1)+0.6).toFixed(1),fill:jet(surfaceValue((l0+l1)/2,(t0+t1)/2))});
      
      
    }
  }
  const d = add(panel,'line',{x1:xD(dashedLd),x2:xD(dashedLd),y1:yD(150),y2:yD(0)-2,stroke:'#fff','stroke-width':8,'stroke-dasharray':'30 20','stroke-dashoffset':'36'});
  
  
  const cb = add(panel,'g',{'shape-rendering':'crispEdges'});
  
  
  const steps = 95;
  for (let i = 0; i < steps; i++) {
    const v0 = i/steps, v1 = (i+1)/steps;
    const s = add(cb,'rect',{x:1735,y:yCb(v1).toFixed(1),width:29,height:(yCb(v0)-yCb(v1)+0.6).toFixed(1),fill:jet((v0+v1)/2)});
    
    
  }
  cbTicks.forEach((v,i) => {
    const l = add(panel,'text',{x:i===1?1716:1718,y:yCb(v)+(i===2?18:i===1?17:19),'font-size':48,'text-anchor':'end'},cbLabels[i]);
    
    
  });
})();
</script>
</body>
</html>
